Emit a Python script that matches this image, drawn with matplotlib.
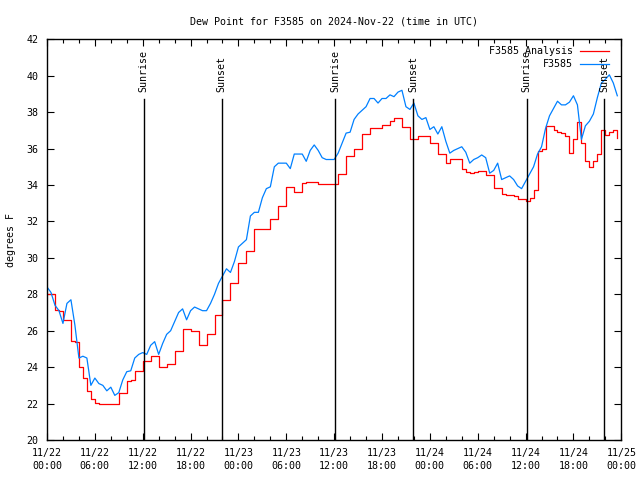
import numpy as np
import pandas as pd
import matplotlib
matplotlib.use("Agg")
import matplotlib.pyplot as plt
import matplotlib.dates as mdates
from matplotlib.ticker import MultipleLocator

# half-hourly readings starting 2024-11-22 00:00 UTC
start = "2024-11-22 00:00"

obs_dewpt = [
	28.4, 28.1, 27.4, 27.1, 26.4, 27.5, 27.7, 26.3, 24.5, 24.6,
	24.5, 23.0, 23.4, 23.1, 23.0, 22.7, 22.9, 22.45, 22.6, 23.3,
	23.75, 23.8, 24.5, 24.7, 24.8, 24.7, 25.2, 25.4, 24.7, 25.3,
	25.8, 26.0, 26.5, 27.0, 27.2, 26.6, 27.1, 27.3, 27.2, 27.1,
	27.1, 27.5, 28.0, 28.6, 29.0, 29.4, 29.2, 29.8, 30.6, 30.8,
	31.0, 32.3, 32.5, 32.5, 33.3, 33.8, 33.9, 35.0, 35.2, 35.2,
	35.2, 34.9, 35.7, 35.7, 35.7, 35.3, 35.9, 36.2, 35.9, 35.5,
	35.4, 35.4, 35.4, 35.75, 36.3, 36.85, 36.9, 37.6, 37.9, 38.1,
	38.3, 38.75, 38.75, 38.5, 38.75, 38.75, 38.95, 38.85, 39.1, 39.2,
	38.3, 38.15, 38.5, 37.8, 37.6, 37.7, 37.05, 37.2, 36.8, 37.2,
	36.4, 35.75, 35.9, 36.0, 36.1, 35.8, 35.2, 35.4, 35.5, 35.65,
	35.5, 34.65, 34.8, 35.2, 34.3, 34.4, 34.5, 34.3, 33.95, 33.8,
	34.2, 34.6, 35.0, 35.7, 36.1, 37.1, 37.8, 38.2, 38.6, 38.4,
	38.4, 38.55, 38.9, 38.4, 36.5, 37.25, 37.5, 37.9, 38.8, 39.6,
	39.8, 40.05, 39.6, 38.9,
]

analysis_dewpt = [
	28.0, 28.0, 27.15, 27.1, 26.6, 26.6, 25.45, 25.4, 24.0, 23.4,
	22.7, 22.25, 22.05, 22.0, 22.0, 22.0, 22.0, 22.0, 22.6, 22.6,
	23.25, 23.3, 23.8, 23.8, 24.35, 24.35, 24.6, 24.6, 24.0, 24.0,
	24.2, 24.2, 24.9, 24.9, 26.1, 26.1, 26.0, 26.0, 25.2, 25.2,
	25.8, 25.8, 26.85, 26.85, 27.7, 27.7, 28.6, 28.6, 29.7, 29.7,
	30.4, 30.4, 31.6, 31.6, 31.6, 31.6, 32.15, 32.15, 32.85, 32.85,
	33.9, 33.9, 33.6, 33.6, 34.1, 34.15, 34.15, 34.15, 34.05, 34.05,
	34.05, 34.05, 34.05, 34.6, 34.6, 35.6, 35.6, 35.95, 35.95, 36.8,
	36.8, 37.15, 37.15, 37.15, 37.3, 37.3, 37.5, 37.7, 37.7, 37.2,
	37.2, 36.55, 36.55, 36.7, 36.7, 36.7, 36.3, 36.3, 35.7, 35.7,
	35.2, 35.45, 35.45, 35.45, 34.9, 34.7, 34.65, 34.7, 34.75, 34.75,
	34.55, 34.55, 33.85, 33.85, 33.5, 33.45, 33.45, 33.4, 33.25, 33.25,
	33.1, 33.3, 33.75, 35.85, 36.0, 37.25, 37.25, 37.0, 36.9, 36.85,
	36.7, 35.75, 36.5, 37.45, 36.3, 35.3, 35.0, 35.3, 35.7, 37.0,
	36.75, 36.9, 37.0, 36.6,
]

sun_events = [
	("Sunrise", "2024-11-22 12:06"),
	("Sunset", "2024-11-22 21:53"),
	("Sunrise", "2024-11-23 12:08"),
	("Sunset", "2024-11-23 21:55"),
	("Sunrise", "2024-11-24 12:07"),
	("Sunset", "2024-11-24 21:52"),
]

times = pd.date_range(start, periods=len(obs_dewpt), freq="30min")

font = "DejaVu Sans Mono"
fs = 7.2
plt.rcParams["font.family"] = font
plt.rcParams["font.size"] = fs

fig = plt.figure(figsize=(6.4, 4.8), dpi=100)
ax = fig.add_axes([47 / 640, 1 - 440 / 480, (621.3 - 47) / 640, (440 - 39.3) / 480])

ax.plot(times, analysis_dewpt, color="#ff0000", lw=0.9, drawstyle="steps-post", label="F3585 Analysis")
ax.plot(times, obs_dewpt, color="#0080ff", lw=0.9, label="F3585")

for name, when in sun_events:
	t = pd.Timestamp(when)
	ax.plot([t, t], [20, 38.7], color="black", lw=1.0)
	ax.text(t, 39.1, name, rotation=90, ha="center", va="bottom", fontsize=fs)

ax.set_xlim(pd.Timestamp("2024-11-22 00:00"), pd.Timestamp("2024-11-25 00:00"))
ax.set_ylim(20, 42)
ax.xaxis.set_major_locator(mdates.HourLocator(byhour=[0, 6, 12, 18]))
ax.xaxis.set_minor_locator(mdates.HourLocator(interval=2))
ax.xaxis.set_major_formatter(mdates.DateFormatter("%m/%d\n%H:%M"))
ax.yaxis.set_major_locator(MultipleLocator(2))

ax.tick_params(which="both", direction="in", top=True, right=True, width=0.8)
ax.tick_params(which="major", length=5, pad=6)
ax.tick_params(which="minor", length=3)
fig.canvas.draw()
for lab in ax.get_xticklabels():
	lab.set_horizontalalignment("center")
	lab.set_linespacing(1.35)
for sp in ax.spines.values():
	sp.set_linewidth(1.0)

ax.set_title("Dew Point for F3585 on 2024-Nov-22 (time in UTC)", fontsize=fs, pad=11)
ax.set_ylabel("degrees F", fontsize=fs, labelpad=8)

ax.legend(loc="upper right", bbox_to_anchor=(1 - 5 / 574.3, 1), frameon=False, markerfirst=False,
	fontsize=fs, handlelength=2.9, handletextpad=0.7, labelspacing=0.3, borderaxespad=0.3, borderpad=0.4)

fig.savefig("out.png", dpi=100)
